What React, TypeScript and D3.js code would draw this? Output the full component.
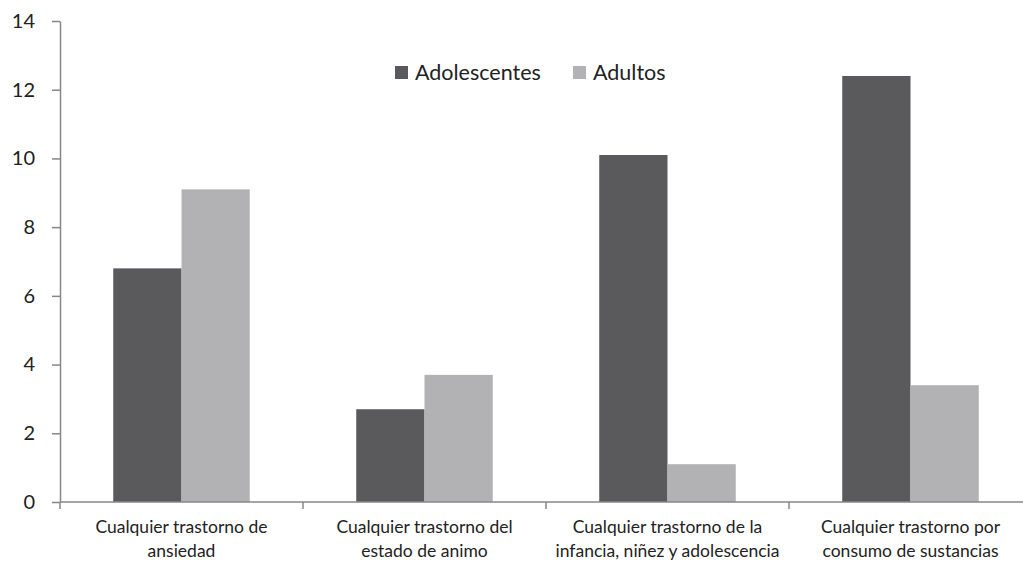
import { useEffect, useRef } from 'react'
import * as d3 from 'd3'

const categories = [
  ['Cualquier trastorno de', 'ansiedad'],
  ['Cualquier trastorno del', 'estado de animo'],
  ['Cualquier trastorno de la', 'infancia, niñez y adolescencia'],
  ['Cualquier trastorno por', 'consumo de sustancias'],
]
const seriesNames = ['Adolescentes', 'Adultos']
const adolescentes = [6.8, 2.7, 10.1, 12.4]
const adultos = [9.1, 3.7, 1.1, 3.4]
const yTicks = [0, 2, 4, 6, 8, 10, 12, 14]
const colors = ['#5a5a5c', '#b2b2b4']

const w = 1023
const h = 562
const font = 'Lato, "Open Sans", sans-serif'

export default function App() {
  const ref = useRef<SVGSVGElement>(null)

  useEffect(() => {
    document.body.style.margin = '0'
    const svg = d3.select(ref.current)
    svg.selectAll('*').remove()

    const marginLeft = 60
    const marginTop = 21
    const marginBottom = 60

    const x = d3.scaleBand<number>().domain(d3.range(categories.length)).range([marginLeft, marginLeft + 243 * 4]).paddingInner(0).paddingOuter(0)
    const xInner = d3.scaleBand<number>().domain([0, 1]).range([0, x.bandwidth()]).paddingOuter(0.78).paddingInner(0)
    const y = d3.scaleLinear().domain([0, 14]).range([h - marginBottom, marginTop])

    const rows = categories.map((c, i) => ({ i, vals: [adolescentes[i], adultos[i]] }))

    // bars
    svg.append('g').selectAll('g').data(rows).enter().append('g')
      .attr('transform', d => `translate(${x(d.i)},0)`)
      .selectAll('rect').data(d => d.vals.map((v, k) => ({ v, k }))).enter().append('rect')
      .attr('x', d => xInner(d.k)!)
      .attr('width', xInner.bandwidth())
      .attr('y', d => y(d.v))
      .attr('height', d => y(0) - y(d.v))
      .attr('fill', d => colors[d.k])

    const axisColor = '#878787'

    // y axis
    const yAxis = svg.append('g').attr('transform', `translate(${marginLeft},0)`)
      .call(d3.axisLeft(y).tickValues(yTicks).tickSize(8).tickSizeOuter(0).tickPadding(17))
    yAxis.select('.domain').attr('stroke', axisColor).attr('stroke-width', 1.5)
    yAxis.selectAll('line').attr('stroke', axisColor).attr('stroke-width', 1.5)
    yAxis.selectAll('text').attr('font-size', '20px').attr('font-family', font).attr('fill', '#222')

    // x axis
    const xg = svg.append('g').attr('transform', `translate(0,${y(0)})`)
    xg.append('line').attr('x1', marginLeft).attr('x2', w).attr('stroke', axisColor).attr('stroke-width', 1.5)
    xg.selectAll('.tk').data(d3.range(categories.length)).enter().append('line')
      .attr('x1', d => x(d)!).attr('x2', d => x(d)!).attr('y1', 0).attr('y2', 7)
      .attr('stroke', axisColor).attr('stroke-width', 1.5)

    const labels = xg.selectAll('.lbl').data(categories).enter().append('text')
      .attr('text-anchor', 'middle')
      .attr('font-size', '17.5px')
      .attr('font-family', font)
      .attr('fill', '#222')
      .attr('transform', (d, i) => `translate(${x(i)! + x.bandwidth() / 2},31)`)
    labels.selectAll('tspan').data(d => d).enter().append('tspan')
      .attr('x', 0).attr('y', (d, k) => k * 24).text(d => d)

    // legend
    const legendX = [395, 573]
    const lg = svg.append('g')
    seriesNames.forEach((name, k) => {
      lg.append('rect').attr('x', legendX[k]).attr('y', 66).attr('width', 13).attr('height', 13).attr('fill', colors[k])
      lg.append('text').attr('x', legendX[k] + 20).attr('y', 80)
        .attr('font-size', '21.5px').attr('font-family', font).attr('fill', '#222').text(name)
    })
  }, [])

  return <svg ref={ref} width={w} height={h} style={{ display: 'block', background: '#fff' }} />
}
